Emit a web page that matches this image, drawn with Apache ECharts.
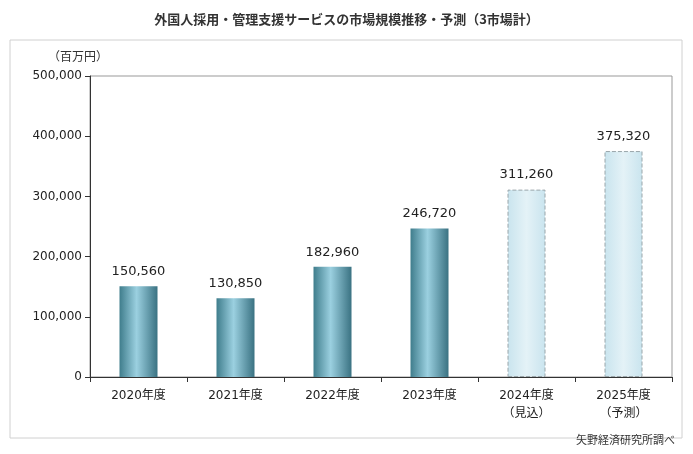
<!DOCTYPE html>
<html>
<head>
<meta charset="utf-8">
<script src="https://cdn.jsdelivr.net/npm/echarts@6/dist/echarts.min.js"></script>
<style>html,body{margin:0;padding:0;background:#fff}#main{width:693px;height:454px}</style>
</head>
<body>
<div id="main"></div>
<script>
// Data
var categories = ['2020年度', '2021年度', '2022年度', '2023年度', '2024年度\n（見込）', '2025年度\n（予測）'];
var values = [150560, 130850, 182960, 246720, 311260, 375320];
var forecastFrom = 4;

var myChart = echarts.init(document.getElementById('main'));
var solidColor = new echarts.graphic.LinearGradient(0, 0, 1, 0, [
  {offset: 0, color: '#3f7d8c'},
  {offset: 0.45, color: '#9bd0e0'},
  {offset: 1, color: '#3a7282'}
]);
var lightColor = new echarts.graphic.LinearGradient(0, 0, 1, 0, [
  {offset: 0, color: '#c9e4ee'},
  {offset: 0.5, color: '#e4f2f7'},
  {offset: 1, color: '#c9e4ee'}
]);
var font = 'DejaVu Sans, Noto Sans CJK JP';

var option = {
  textStyle: {fontFamily: font},
  title: {
    text: '外国人採用・管理支援サービスの市場規模推移・予測（3市場計）',
    left: 'center', top: 8,
    textStyle: {fontSize: 13, fontWeight: 'bold', color: '#333', fontFamily: 'Noto Sans CJK JP'}
  },
  graphic: [
    {type: 'rect', shape: {x: 10, y: 40, width: 672, height: 398}, style: {fill: 'none', stroke: '#d0d0d0'}},
    {type: 'text', left: 48, top: 50, style: {text: '（百万円）', fontSize: 12, fill: '#333', fontFamily: 'Noto Sans CJK JP'}},
    {type: 'text', right: 18, top: 434, style: {text: '矢野経済研究所調べ', fontSize: 11, fill: '#333', fontFamily: 'Noto Sans CJK JP'}}
  ],
  grid: {left: 90, right: 21, top: 76, bottom: 77, show: true, borderColor: '#999', borderWidth: 1},
  xAxis: {
    type: 'category', data: categories,
    axisLine: {lineStyle: {color: '#333'}},
    axisTick: {show: true, lineStyle: {color: '#333'}},
    axisLabel: {color: '#222', fontSize: 12, lineHeight: 18, margin: 10}
  },
  yAxis: {
    type: 'value', min: 0, max: 500000, interval: 100000,
    axisLine: {show: true, lineStyle: {color: '#333'}},
    axisTick: {show: true, lineStyle: {color: '#333'}},
    splitLine: {show: false},
    axisLabel: {color: '#222', fontSize: 12, formatter: function (v) { return v.toLocaleString('en-US'); }}
  },
  series: [{
    type: 'bar', barWidth: 38,
    data: values.map(function (v, i) {
      return i >= forecastFrom
        ? {value: v, itemStyle: {color: lightColor, borderColor: '#9aa6aa', borderType: 'dashed', borderWidth: 1}}
        : {value: v, itemStyle: {color: solidColor}};
    }),
    label: {show: true, position: 'top', distance: 8, fontSize: 13, color: '#222',
      formatter: function (p) { return p.value.toLocaleString('en-US'); }}
  }]
};
myChart.setOption(option);
</script>
</body>
</html>
